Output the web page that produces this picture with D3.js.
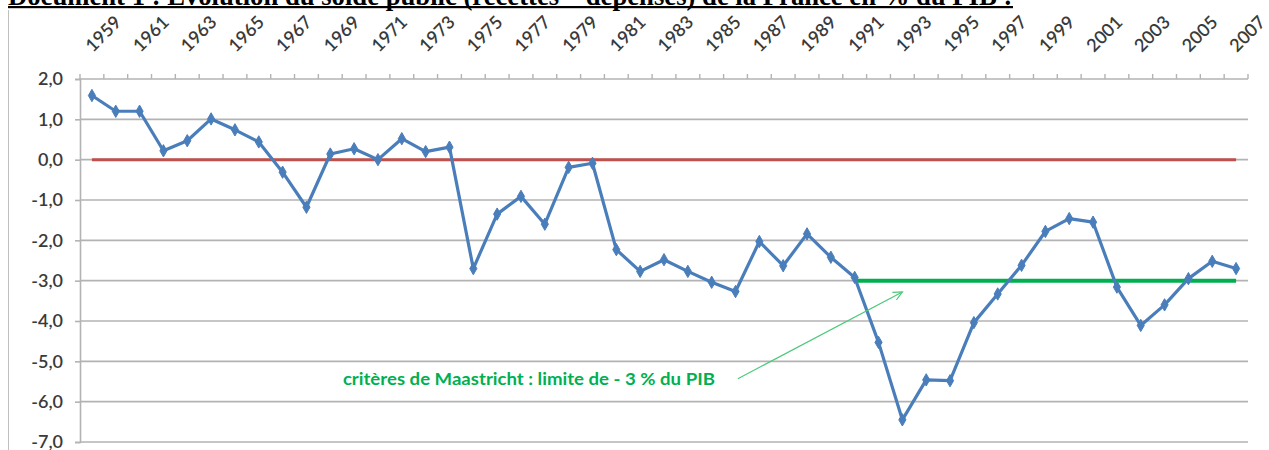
<!DOCTYPE html>
<html><head><meta charset="utf-8">
<script src="https://cdn.jsdelivr.net/npm/d3@7"></script>
<style>html,body{margin:0;padding:0;background:#fff;}svg{display:block;}</style>
</head><body>
<svg id="c" width="1269" height="450"></svg>
<script>
const titleText = "Document 1 : Evolution du solde public (recettes – dépenses) de la France en % du PIB :";
const years = d3.range(1959, 2008);
const soldeValues = [1.59,1.20,1.20,0.22,0.47,1.01,0.74,0.44,-0.31,-1.18,
  0.14,0.27,0.00,0.52,0.20,0.31,-2.70,-1.35,-0.91,-1.60,
  -0.19,-0.09,-2.23,-2.77,-2.48,-2.77,-3.04,-3.27,-2.03,-2.63,
  -1.84,-2.42,-2.92,-4.53,-6.45,-5.46,-5.48,-4.04,-3.33,-2.62,
  -1.78,-1.46,-1.55,-3.16,-4.11,-3.60,-2.95,-2.52,-2.70];
const yTicks = [2,1,0,-1,-2,-3,-4,-5,-6,-7];
const xLabelYears = years.filter(y => (y - 1959) % 2 === 0);
const zeroLine = {from: 1959, to: 2007, value: 0};
const maastrichtLine = {from: 1991, to: 2007, value: -3};
const annotationText = "critères de Maastricht : limite de - 3 % du PIB";
const annotationPos = {year: 1969.53, value: -5.58};
const arrowFrom = {year: 1986.1, value: -5.43};
const arrowTo = {year: 1993.0, value: -3.28};

(function () {
const svg = d3.select("#c");
const pLeft = 80, pRight = 1248, pTop = 79, pBottom = 442;
const x = d3.scaleBand().domain(years).range([pLeft, pRight]).padding(0);
const cx = d => x(d) + x.bandwidth() / 2;
const xl = d3.scaleLinear().domain([1959, 2007]).range([cx(1959), cx(2007)]);
const y = d3.scaleLinear().domain([-7, 2]).range([pBottom, pTop]);
const font = "Lato, 'Open Sans', sans-serif";

// chart border (left edge)
svg.append("line").attr("x1", 8.5).attr("x2", 8.5).attr("y1", 10).attr("y2", 450)
  .attr("stroke", "#bfbfbf").attr("stroke-width", 1);

// title (cut off at top)
const t = svg.append("text").attr("x", 8).attr("y", 5)
  .attr("font-family", "'Liberation Serif', 'Times New Roman', serif")
  .attr("font-weight", "bold").attr("font-size", 20).attr("fill", "#000")
  .text(titleText);
const tw = t.node().getComputedTextLength();
t.attr("font-size", 20 * 1005 / tw);
svg.append("rect").attr("x", 8).attr("y", 6).attr("width", 1005).attr("height", 2.2).attr("fill", "#000");

// gridlines
svg.append("g").selectAll("line").data(yTicks.filter(v => v !== 2)).join("line")
  .attr("x1", pLeft).attr("x2", pRight).attr("y1", d => y(d)).attr("y2", d => y(d))
  .attr("stroke", "#b3b3b3").attr("stroke-width", 1.6);

// y axis
const yAxis = d3.axisLeft(y).tickValues(yTicks).tickSize(5).tickPadding(12)
  .tickFormat(d => d3.format(".1f")(d).replace(".", ",").replace("−", "-"));
const gy = svg.append("g").attr("transform", `translate(${pLeft},0)`).call(yAxis);
gy.select(".domain").attr("stroke", "#b3b3b3").attr("stroke-width", 1.6);
gy.selectAll(".tick line").attr("stroke", "#b3b3b3").attr("stroke-width", 1.6);
gy.selectAll("text").attr("font-family", font).attr("font-size", 18).attr("fill", "#3a3a3a")
  .attr("font-weight", 600);

// x axis on top (category boundaries as ticks)
const boundaries = d3.range(0, years.length + 1).map(i => pLeft + i * x.bandwidth());
svg.append("line").attr("x1", pLeft).attr("x2", pRight).attr("y1", pTop).attr("y2", pTop)
  .attr("stroke", "#b3b3b3").attr("stroke-width", 1.6);
svg.append("g").selectAll("line").data(boundaries).join("line")
  .attr("x1", d => d).attr("x2", d => d).attr("y1", pTop).attr("y2", pTop - 5)
  .attr("stroke", "#b3b3b3").attr("stroke-width", 1.4);
svg.append("g").selectAll("text").data(xLabelYears).join("text")
  .attr("transform", d => `translate(${cx(d) + 1},${53}) rotate(-45)`)
  .attr("font-family", font).attr("font-size", 18).attr("font-weight", 600).attr("fill", "#3a3a3a")
  .text(d => d);

// reference lines
svg.append("line").attr("x1", xl(zeroLine.from)).attr("x2", xl(zeroLine.to))
  .attr("y1", y(zeroLine.value)).attr("y2", y(zeroLine.value))
  .attr("stroke", "#c0504d").attr("stroke-width", 3);
svg.append("line").attr("x1", xl(maastrichtLine.from)).attr("x2", xl(maastrichtLine.to))
  .attr("y1", y(maastrichtLine.value)).attr("y2", y(maastrichtLine.value))
  .attr("stroke", "#00b050").attr("stroke-width", 4);

// data line
const data = years.map((yr, i) => ({yr, v: soldeValues[i]}));
svg.append("path").datum(data)
  .attr("d", d3.line().x(d => cx(d.yr)).y(d => y(d.v)))
  .attr("fill", "none").attr("stroke", "#4a7ebb").attr("stroke-width", 3.2)
  .attr("stroke-linejoin", "round");
svg.append("g").selectAll("path").data(data).join("path")
  .attr("transform", d => `translate(${cx(d.yr)},${y(d.v)})`)
  .attr("d", d3.symbol(d3.symbolDiamond, 44))
  .attr("fill", "#4a7ebb").attr("stroke", "#4a7ebb").attr("stroke-width", 1);

// annotation
svg.append("text").attr("x", xl(annotationPos.year)).attr("y", y(annotationPos.value))
  .attr("font-family", font).attr("font-size", 17).attr("font-weight", "bold")
  .attr("textLength", 372).attr("lengthAdjust", "spacingAndGlyphs")
  .attr("fill", "#00b050").text(annotationText);
const ax1 = xl(arrowFrom.year), ay1 = y(arrowFrom.value), ax2 = xl(arrowTo.year), ay2 = y(arrowTo.value);
svg.append("line").attr("x1", ax1).attr("y1", ay1).attr("x2", ax2).attr("y2", ay2)
  .attr("stroke", "#4cc97a").attr("stroke-width", 1.2);
const ang = Math.atan2(ay2 - ay1, ax2 - ax1);
const ah = 10, aw = 0.45;
svg.append("path")
  .attr("d", `M${ax2 - ah*Math.cos(ang - aw)},${ay2 - ah*Math.sin(ang - aw)}L${ax2},${ay2}L${ax2 - ah*Math.cos(ang + aw)},${ay2 - ah*Math.sin(ang + aw)}`)
  .attr("fill", "none").attr("stroke", "#4cc97a").attr("stroke-width", 1.2);
})();
</script>
</body></html>
